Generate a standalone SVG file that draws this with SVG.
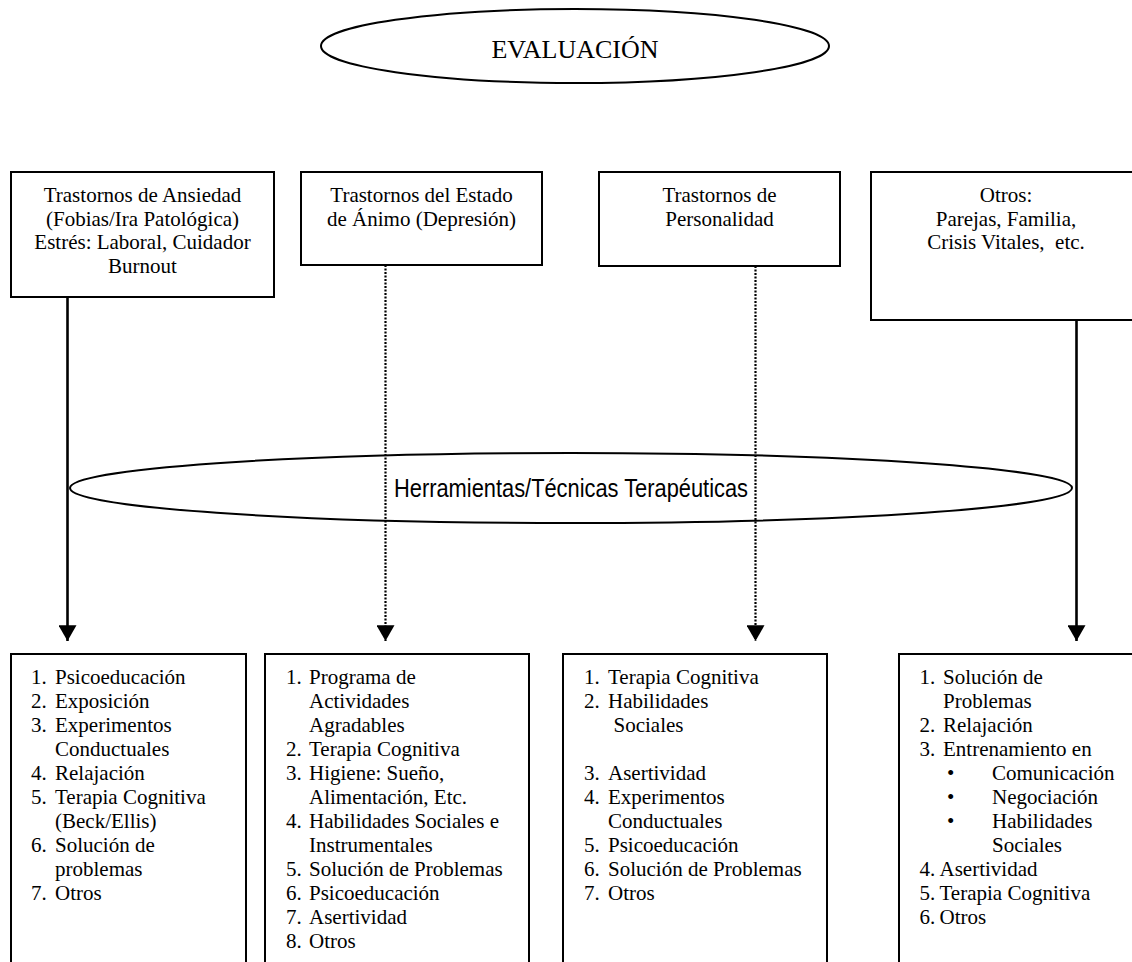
<svg xmlns="http://www.w3.org/2000/svg" width="1132" height="962" viewBox="0 0 1132 962">
  <style>
    .box { fill: #ffffff; stroke: #000000; stroke-width: 2; }
    .oval { fill: none; stroke: #000000; stroke-width: 2; }
    .t { font-family: "Liberation Serif", "Times New Roman", serif; font-size: 21px; fill: #000000; }
    .c { text-anchor: middle; }
    .title { font-family: "Liberation Serif", "Times New Roman", serif; font-size: 26px; fill: #000000; text-anchor: middle; }
    .band { font-family: "Liberation Sans Narrow", "Arial Narrow", "Liberation Sans", Arial, sans-serif; font-size: 26px; fill: #000000; text-anchor: middle; }
    .solid { stroke: #000000; stroke-width: 2.6; fill: none; }
    .dotted { stroke: #000000; stroke-width: 2.2; stroke-dasharray: 2 1.5; fill: none; }
  </style>
  <defs>
    <marker id="arrow" markerUnits="userSpaceOnUse" markerWidth="18" markerHeight="16" refX="8" refY="14" orient="0" viewBox="0 0 16 14">
      <path d="M0,0 L16,0 L8,14 Z" fill="#000000"/>
    </marker>
  </defs>

  <rect x="0" y="0" width="1132" height="962" fill="#ffffff"/>

  <!-- title oval -->
  <g id="evaluacion">
    <ellipse class="oval" cx="575" cy="46" rx="254" ry="37"/>
    <text class="title" x="575" y="58">EVALUACIÓN</text>
  </g>

  <!-- connectors: problem areas down to technique lists -->
  <g id="connectors">
    <line class="solid" x1="67.5" y1="297" x2="67.5" y2="641" marker-end="url(#arrow)"/>
    <line class="dotted" x1="385.5" y1="265" x2="385.5" y2="641" marker-end="url(#arrow)"/>
    <line class="dotted" x1="755.5" y1="266" x2="755.5" y2="641" marker-end="url(#arrow)"/>
    <line class="solid" x1="1076.5" y1="320" x2="1076.5" y2="641" marker-end="url(#arrow)"/>
  </g>

  <!-- central band oval -->
  <g id="herramientas">
    <ellipse class="oval" cx="571" cy="488" rx="501" ry="35"/>
    <text class="band" x="571" y="497" textLength="354" lengthAdjust="spacingAndGlyphs">Herramientas/Técnicas Terapéuticas</text>
  </g>

  <!-- problem areas -->
  <g id="ansiedad">
    <rect class="box" x="11" y="172" width="263" height="125"/>
    <text class="t c" x="142.5" y="202">Trastornos de Ansiedad</text>
    <text class="t c" x="142.5" y="225.5">(Fobias/Ira Patológica)</text>
    <text class="t c" x="142.5" y="249">Estrés: Laboral, Cuidador</text>
    <text class="t c" x="142.5" y="272.5">Burnout</text>
  </g>

  <g id="animo">
    <rect class="box" x="301" y="172" width="241" height="93"/>
    <text class="t c" x="421.5" y="202">Trastornos del Estado</text>
    <text class="t c" x="421.5" y="225.5">de Ánimo (Depresión)</text>
  </g>

  <g id="personalidad">
    <rect class="box" x="599" y="172" width="241" height="94"/>
    <text class="t c" x="719.5" y="202">Trastornos de</text>
    <text class="t c" x="719.5" y="225.5">Personalidad</text>
  </g>

  <g id="otros">
    <rect class="box" x="871" y="172" width="272" height="148"/>
    <text class="t c" x="1006" y="202">Otros:</text>
    <text class="t c" x="1006" y="225.5">Parejas, Familia,</text>
    <text class="t c" x="1006" y="249" xml:space="preserve">Crisis Vitales,  etc.</text>
  </g>

  <!-- technique lists -->
  <g id="lista-ansiedad">
    <rect class="box" x="11" y="654" width="235" height="320"/>
    <text class="t" x="31" y="684">1.</text><text class="t" x="55" y="684">Psicoeducación</text>
    <text class="t" x="31" y="708">2.</text><text class="t" x="55" y="708">Exposición</text>
    <text class="t" x="31" y="732">3.</text><text class="t" x="55" y="732">Experimentos</text>
    <text class="t" x="55" y="756">Conductuales</text>
    <text class="t" x="31" y="780">4.</text><text class="t" x="55" y="780">Relajación</text>
    <text class="t" x="31" y="804">5.</text><text class="t" x="55" y="804">Terapia Cognitiva</text>
    <text class="t" x="55" y="828">(Beck/Ellis)</text>
    <text class="t" x="31" y="852">6.</text><text class="t" x="55" y="852">Solución de</text>
    <text class="t" x="55" y="876">problemas</text>
    <text class="t" x="31" y="900">7.</text><text class="t" x="55" y="900">Otros</text>
  </g>

  <g id="lista-animo">
    <rect class="box" x="265" y="654" width="264" height="320"/>
    <text class="t" x="286" y="684">1.</text><text class="t" x="309" y="684">Programa de</text>
    <text class="t" x="309" y="708">Actividades</text>
    <text class="t" x="309" y="732">Agradables</text>
    <text class="t" x="286" y="756">2.</text><text class="t" x="309" y="756">Terapia Cognitiva</text>
    <text class="t" x="286" y="780">3.</text><text class="t" x="309" y="780">Higiene: Sueño,</text>
    <text class="t" x="309" y="804">Alimentación, Etc.</text>
    <text class="t" x="286" y="828">4.</text><text class="t" x="309" y="828">Habilidades Sociales e</text>
    <text class="t" x="309" y="852">Instrumentales</text>
    <text class="t" x="286" y="876">5.</text><text class="t" x="309" y="876">Solución de Problemas</text>
    <text class="t" x="286" y="900">6.</text><text class="t" x="309" y="900">Psicoeducación</text>
    <text class="t" x="286" y="924">7.</text><text class="t" x="309" y="924">Asertividad</text>
    <text class="t" x="286" y="948">8.</text><text class="t" x="309" y="948">Otros</text>
  </g>

  <g id="lista-personalidad">
    <rect class="box" x="563" y="654" width="264" height="320"/>
    <text class="t" x="584" y="684">1.</text><text class="t" x="608" y="684">Terapia Cognitiva</text>
    <text class="t" x="584" y="708">2.</text><text class="t" x="608" y="708">Habilidades</text>
    <text class="t" x="613.5" y="732">Sociales</text>
    <text class="t" x="584" y="780">3.</text><text class="t" x="608" y="780">Asertividad</text>
    <text class="t" x="584" y="804">4.</text><text class="t" x="608" y="804">Experimentos</text>
    <text class="t" x="608" y="828">Conductuales</text>
    <text class="t" x="584" y="852">5.</text><text class="t" x="608" y="852">Psicoeducación</text>
    <text class="t" x="584" y="876">6.</text><text class="t" x="608" y="876">Solución de Problemas</text>
    <text class="t" x="584" y="900">7.</text><text class="t" x="608" y="900">Otros</text>
  </g>

  <g id="lista-otros">
    <rect class="box" x="899" y="654" width="245" height="320"/>
    <text class="t" x="919.5" y="684">1.</text><text class="t" x="943" y="684">Solución de</text>
    <text class="t" x="943" y="708">Problemas</text>
    <text class="t" x="919.5" y="732">2.</text><text class="t" x="943" y="732">Relajación</text>
    <text class="t" x="919.5" y="756">3.</text><text class="t" x="943" y="756">Entrenamiento en</text>
    <text class="t" x="947" y="780">•</text><text class="t" x="992" y="780">Comunicación</text>
    <text class="t" x="947" y="804">•</text><text class="t" x="992" y="804">Negociación</text>
    <text class="t" x="947" y="828">•</text><text class="t" x="992" y="828">Habilidades</text>
    <text class="t" x="992" y="852">Sociales</text>
    <text class="t" x="919.5" y="876">4.</text><text class="t" x="939.5" y="876">Asertividad</text>
    <text class="t" x="919.5" y="900">5.</text><text class="t" x="939.5" y="900">Terapia Cognitiva</text>
    <text class="t" x="919.5" y="924">6.</text><text class="t" x="939.5" y="924">Otros</text>
  </g>
</svg>
